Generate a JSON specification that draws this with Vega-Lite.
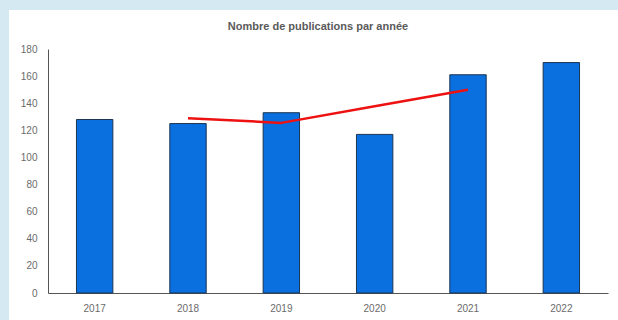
{
  "$schema": "https://vega.github.io/schema/vega-lite/v6.json",
  "autosize": "none",
  "width": 560,
  "height": 244,
  "padding": {"left": 48, "top": 49, "right": 10, "bottom": 27},
  "background": "#d4e9f2",
  "view": {"fill": "white", "stroke": "white", "strokeWidth": 78},
  "title": {
    "text": "Nombre de publications par année",
    "font": "Liberation Sans",
    "fontSize": 11,
    "fontWeight": "bold",
    "color": "#5a5a5a",
    "anchor": "middle",
    "dx": -10,
    "offset": 12
  },
  "config": {
    "font": "Liberation Sans",
    "axis": {
      "labelFont": "Liberation Sans",
      "labelFontSize": 10,
      "labelColor": "#6b6b6b",
      "domainColor": "#555555",
      "domainWidth": 1,
      "ticks": false,
      "grid": false,
      "title": null,
      "labelFlush": false
    }
  },
  "data": {
    "values": [
      {"year": "2017", "series": "publications", "value": 128},
      {"year": "2018", "series": "publications", "value": 125},
      {"year": "2019", "series": "publications", "value": 133},
      {"year": "2020", "series": "publications", "value": 117},
      {"year": "2021", "series": "publications", "value": 161},
      {"year": "2022", "series": "publications", "value": 170},
      {"year": "2018", "series": "moyenne", "value": 129},
      {"year": "2019", "series": "moyenne", "value": 125.5},
      {"year": "2020", "series": "moyenne", "value": 137.7},
      {"year": "2021", "series": "moyenne", "value": 150}
    ]
  },
  "encoding": {
    "x": {
      "field": "year",
      "type": "ordinal",
      "scale": {"paddingInner": 0.61, "paddingOuter": 0.305},
      "axis": {"labelAngle": 0, "labelPadding": 10}
    },
    "y": {
      "field": "value",
      "type": "quantitative",
      "scale": {"domain": [0, 180]},
      "axis": {
        "values": [0, 20, 40, 60, 80, 100, 120, 140, 160, 180],
        "labelPadding": 11,
        "labelOverlap": false,
        "labelBound": false
      }
    }
  },
  "layer": [
    {
      "transform": [{"filter": "datum.series == 'publications'"}],
      "mark": {"type": "bar", "color": "#0a6fdf", "stroke": "#1d3550", "strokeWidth": 1}
    },
    {
      "transform": [{"filter": "datum.series == 'moyenne'"}],
      "mark": {"type": "line", "color": "#ee1111", "strokeWidth": 2.5, "interpolate": "linear", "strokeJoin": "round"}
    }
  ]
}
